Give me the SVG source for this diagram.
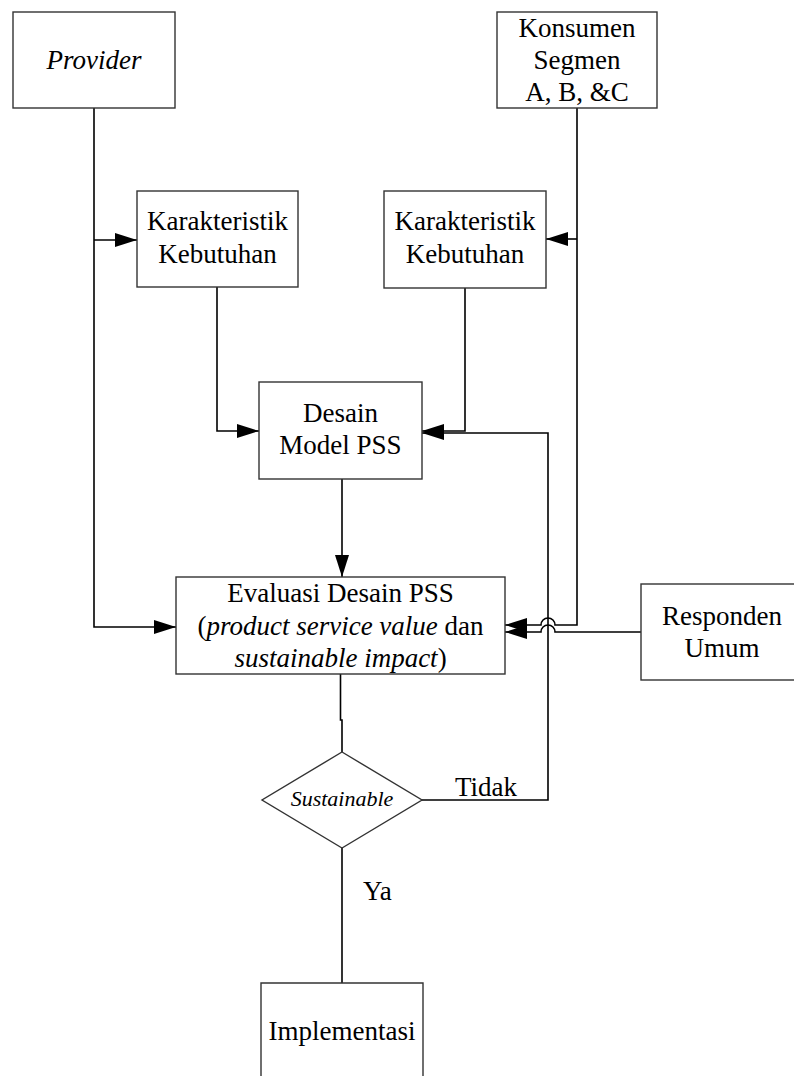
<svg xmlns="http://www.w3.org/2000/svg" width="794" height="1076" viewBox="0 0 794 1076">
  <style>
    .box { fill: #fff; stroke: #333; stroke-width: 1.4; }
    .t { font-family: "Liberation Serif", "Times New Roman", serif; font-size: 27px; fill: #000; text-anchor: middle; }
    .it { font-style: italic; }
    .wire { fill: none; stroke: #000; stroke-width: 1.6; }
  </style>
  <defs>
    <marker id="arrow" markerUnits="userSpaceOnUse" markerWidth="24" markerHeight="16" refX="22" refY="7" orient="auto">
      <path d="M0 0 L22 7 L0 14 Z" fill="#000"/>
    </marker>
  </defs>

  <rect width="794" height="1076" fill="#fff"/>

  <!-- connectors -->
  <g id="connectors">
    <!-- Provider to both targets -->
    <path class="wire" d="M94 108 V627 H176" marker-end="url(#arrow)"/>
    <path class="wire" d="M94 240 H137" marker-end="url(#arrow)"/>
    <!-- Konsumen to Karakteristik and Evaluasi -->
    <path class="wire" d="M577 108 V625 H555 A7 7 0 0 0 541 625 H505" marker-end="url(#arrow)"/>
    <path class="wire" d="M577 239 H546" marker-end="url(#arrow)"/>
    <!-- Karakteristik to Desain -->
    <path class="wire" d="M217 287 V431 H259" marker-end="url(#arrow)"/>
    <path class="wire" d="M465 288 V431 H422" marker-end="url(#arrow)"/>
    <!-- Desain to Evaluasi -->
    <path class="wire" d="M342 479 V577" marker-end="url(#arrow)"/>
    <!-- Responden to Evaluasi -->
    <path class="wire" d="M641 632 H555 A7 7 0 0 0 541 632 H505" marker-end="url(#arrow)"/>
    <!-- Evaluasi to decision -->
    <path class="wire" d="M340.5 674 V720 H342 V752"/>
    <!-- Tidak loop back to Desain -->
    <path class="wire" d="M422 800 H548 V433 H422" marker-end="url(#arrow)"/>
    <!-- Ya to Implementasi -->
    <path class="wire" d="M342 848 V983"/>
    <text class="t" x="455" y="796" style="text-anchor:start">Tidak</text>
    <text class="t" x="363" y="900" style="text-anchor:start">Ya</text>
  </g>

  <g id="provider">
    <rect class="box" x="13" y="12" width="162" height="96"/>
    <text class="t it" x="94" y="69">Provider</text>
  </g>

  <g id="konsumen">
    <rect class="box" x="497" y="12" width="160" height="96"/>
    <text class="t" x="577" y="37">Konsumen</text>
    <text class="t" x="577" y="69">Segmen</text>
    <text class="t" x="577" y="101">A, B, &amp;C</text>
  </g>

  <g id="karakteristik-provider">
    <rect class="box" x="137" y="191" width="161" height="96"/>
    <text class="t" x="217.5" y="230">Karakteristik</text>
    <text class="t" x="217.5" y="263">Kebutuhan</text>
  </g>

  <g id="karakteristik-konsumen">
    <rect class="box" x="384" y="191" width="162" height="97"/>
    <text class="t" x="465" y="230">Karakteristik</text>
    <text class="t" x="465" y="263">Kebutuhan</text>
  </g>

  <g id="desain">
    <rect class="box" x="259" y="382" width="163" height="97"/>
    <text class="t" x="340.5" y="422">Desain</text>
    <text class="t" x="340.5" y="454">Model PSS</text>
  </g>

  <g id="evaluasi">
    <rect class="box" x="176" y="577" width="329" height="97"/>
    <text class="t" x="340.5" y="602">Evaluasi Desain PSS</text>
    <text class="t" x="340.5" y="634.5">(<tspan class="it" font-style="italic">product service value</tspan> dan</text>
    <text class="t" x="340.5" y="667"><tspan font-style="italic">sustainable impact</tspan>)</text>
  </g>

  <g id="responden">
    <rect class="box" x="641" y="584" width="170" height="96"/>
    <text class="t" x="722" y="625">Responden</text>
    <text class="t" x="722" y="657">Umum</text>
  </g>

  <g id="sustainable">
    <path class="box" d="M342 752 L422 800 L342 848 L262 800 Z"/>
    <text class="t it" x="342" y="806" style="font-size:22px">Sustainable</text>
  </g>

  <g id="implementasi">
    <path class="box" d="M261 1080 V983 H423 V1080"/>
    <text class="t" x="342" y="1040">Implementasi</text>
  </g>
</svg>
